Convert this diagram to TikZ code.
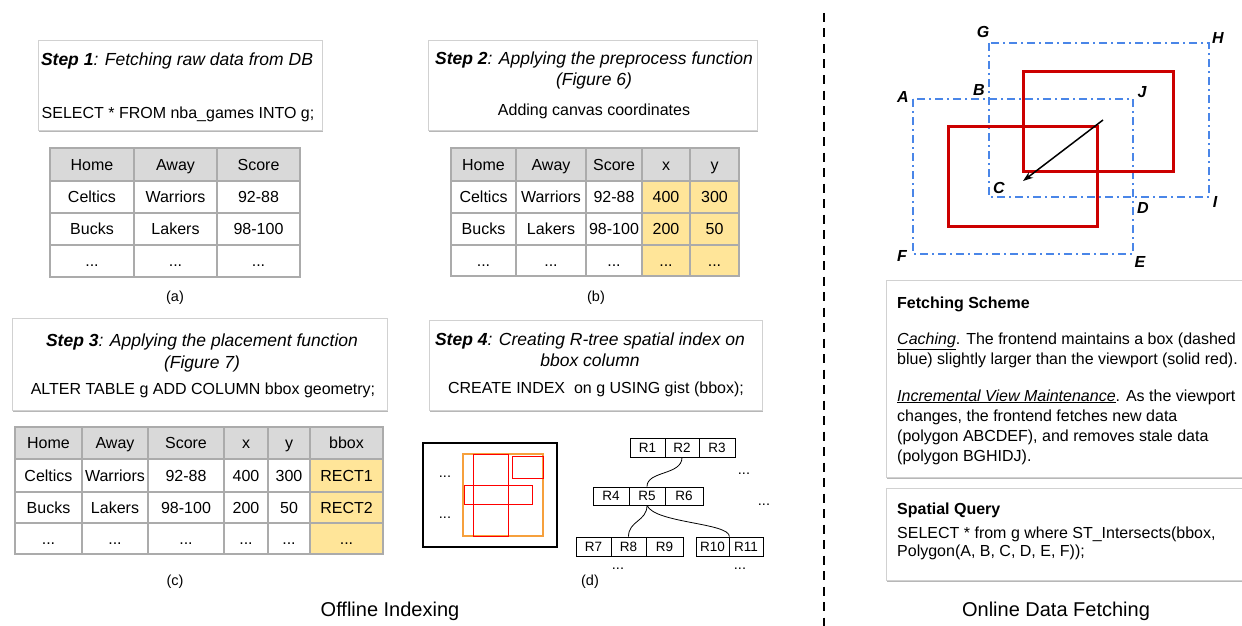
\documentclass[tikz,border=0pt]{standalone}
\usepackage{fontspec}
\setmainfont{Liberation Sans}
\usetikzlibrary{shadows,arrows.meta}
\definecolor{tblgray}{HTML}{ABABAB}
\definecolor{hdrgray}{HTML}{D9D9D9}
\definecolor{ylwfill}{HTML}{FFE599}
\definecolor{cblue}{HTML}{4A86E8}
\definecolor{cred}{HTML}{CC0000}
\definecolor{corange}{HTML}{F6A03C}
\newcommand\tcellx[7]{\node[#6, minimum width={(#4-#2)*1pt}, minimum height={(#5-#3)*1pt}] (#1) at ({(#2+#4)/2},{(#3+#5)/2}) {#7};}
\tikzset{
  txt/.style={inner sep=0pt, font=\fontsize{16}{19}\selectfont},
  steptxt/.style={inner sep=0pt, font=\fontsize{17.5}{21}\selectfont\itshape},
  stepbox/.style={draw=black!18, fill=white, line width=0.8pt, inner sep=0pt,
    drop shadow={shadow xshift=1pt, shadow yshift=-2pt, opacity=0.4, fill=black!70}},
  cell/.style={draw=tblgray, fill=white, line width=1.5pt, inner sep=0pt, text height=11.5pt, text depth=0.5pt, font=\fontsize{16}{19}\selectfont},
  hdr/.style={cell, fill=hdrgray},
  ycell/.style={cell, fill=ylwfill},
  rcell/.style={draw=black, line width=0.8pt, inner sep=0pt, text height=9.5pt, text depth=0.5pt, font=\fontsize{13.5}{16}\selectfont},
  sublabel/.style={inner sep=0pt, font=\fontsize{14.5}{17}\selectfont},
  ptlabel/.style={inner sep=0pt, font=\fontsize{16}{19}\selectfont\bfseries\itshape},
  cache/.style={draw=cblue, line width=2pt, dash pattern=on 8pt off 4pt on 2pt off 4pt},
  viewport/.style={draw=cred, line width=3pt},
  rect/.style={draw=red, line width=1pt},
  curve/.style={draw=black, line width=0.8pt},
}
\begin{document}
\begin{tikzpicture}[x=1pt,y=-1pt]
\useasboundingbox (0,0) rectangle (1242,626);

% ---------- Step 1 ----------
\node[stepbox, minimum width=284pt, minimum height=90pt] (s1) at (180,85) {};
\node[steptxt, anchor=base] (s1a) at (177,66) {\textbf{Step 1}: Fetching raw data from DB};
\node[txt, anchor=base] (s1b) at (178,118) {SELECT * FROM nba\_games INTO g;};

% table (a)
\tcellx{a11}{50}{148}{134}{181}{hdr}{Home}
\tcellx{a12}{134}{148}{217}{181}{hdr}{Away}
\tcellx{a13}{217}{148}{300}{181}{hdr}{Score}
\tcellx{a21}{50}{181}{134}{213}{cell}{Celtics}
\tcellx{a22}{134}{181}{217}{213}{cell}{Warriors}
\tcellx{a23}{217}{181}{300}{213}{cell}{92-88}
\tcellx{a31}{50}{213}{134}{245}{cell}{Bucks}
\tcellx{a32}{134}{213}{217}{245}{cell}{Lakers}
\tcellx{a33}{217}{213}{300}{245}{cell}{98-100}
\tcellx{a41}{50}{245}{134}{277}{cell}{...}
\tcellx{a42}{134}{245}{217}{277}{cell}{...}
\tcellx{a43}{217}{245}{300}{277}{cell}{...}
\node[sublabel] (la) at (175,298) {(a)};

% ---------- Step 2 ----------
\node[stepbox, minimum width=329pt, minimum height=90pt] (s2) at (592.5,85) {};
\node[steptxt, anchor=base] (s2a) at (594,64) {\textbf{Step 2}: Applying the preprocess function};
\node[steptxt, anchor=base] (s2b) at (594,85) {(Figure 6)};
\node[txt, anchor=base] (s2c) at (594,115) {Adding canvas coordinates};

% table (b)
\tcellx{b11}{451}{148}{516}{181}{hdr}{Home}
\tcellx{b12}{516}{148}{586}{181}{hdr}{Away}
\tcellx{b13}{586}{148}{642}{181}{hdr}{Score}
\tcellx{b14}{642}{148}{690}{181}{hdr}{x}
\tcellx{b15}{690}{148}{739}{181}{hdr}{y}
\tcellx{b21}{451}{181}{516}{213}{cell}{Celtics}
\tcellx{b22}{516}{181}{586}{213}{cell}{Warriors}
\tcellx{b23}{586}{181}{642}{213}{cell}{92-88}
\tcellx{b24}{642}{181}{690}{213}{ycell}{400}
\tcellx{b25}{690}{181}{739}{213}{ycell}{300}
\tcellx{b31}{451}{213}{516}{245}{cell}{Bucks}
\tcellx{b32}{516}{213}{586}{245}{cell}{Lakers}
\tcellx{b33}{586}{213}{642}{245}{cell}{98-100}
\tcellx{b34}{642}{213}{690}{245}{ycell}{200}
\tcellx{b35}{690}{213}{739}{245}{ycell}{50}
\tcellx{b41}{451}{245}{516}{276}{cell}{...}
\tcellx{b42}{516}{245}{586}{276}{cell}{...}
\tcellx{b43}{586}{245}{642}{276}{cell}{...}
\tcellx{b44}{642}{245}{690}{276}{ycell}{...}
\tcellx{b45}{690}{245}{739}{276}{ycell}{...}
\node[sublabel] (lb) at (596,298) {(b)};

% ---------- Step 3 ----------
\node[stepbox, minimum width=375pt, minimum height=92pt] (s3) at (199.5,364) {};
\node[steptxt, anchor=base] (s3a) at (202,346) {\textbf{Step 3}: Applying the placement function};
\node[steptxt, anchor=base] (s3b) at (202,368) {(Figure 7)};
\node[txt, anchor=base] (s3c) at (203,394) {ALTER TABLE g ADD COLUMN bbox geometry;};

% table (c)
\tcellx{c11}{15}{427}{82}{459}{hdr}{Home}
\tcellx{c12}{82}{427}{148}{459}{hdr}{Away}
\tcellx{c13}{148}{427}{224}{459}{hdr}{Score}
\tcellx{c14}{224}{427}{268}{459}{hdr}{x}
\tcellx{c15}{268}{427}{310}{459}{hdr}{y}
\tcellx{c16}{310}{427}{383}{459}{hdr}{bbox}
\tcellx{c21}{15}{459}{82}{492}{cell}{Celtics}
\tcellx{c22}{82}{459}{148}{492}{cell}{Warriors}
\tcellx{c23}{148}{459}{224}{492}{cell}{92-88}
\tcellx{c24}{224}{459}{268}{492}{cell}{400}
\tcellx{c25}{268}{459}{310}{492}{cell}{300}
\tcellx{c26}{310}{459}{383}{492}{ycell}{RECT1}
\tcellx{c31}{15}{492}{82}{523}{cell}{Bucks}
\tcellx{c32}{82}{492}{148}{523}{cell}{Lakers}
\tcellx{c33}{148}{492}{224}{523}{cell}{98-100}
\tcellx{c34}{224}{492}{268}{523}{cell}{200}
\tcellx{c35}{268}{492}{310}{523}{cell}{50}
\tcellx{c36}{310}{492}{383}{523}{ycell}{RECT2}
\tcellx{c41}{15}{523}{82}{554}{cell}{...}
\tcellx{c42}{82}{523}{148}{554}{cell}{...}
\tcellx{c43}{148}{523}{224}{554}{cell}{...}
\tcellx{c44}{224}{523}{268}{554}{cell}{...}
\tcellx{c45}{268}{523}{310}{554}{cell}{...}
\tcellx{c46}{310}{523}{383}{554}{ycell}{...}
\node[sublabel] (lc) at (175,582) {(c)};

% ---------- Step 4 ----------
\node[stepbox, minimum width=333pt, minimum height=90pt] (s4) at (595.5,365) {};
\node[steptxt, anchor=base] (s4a) at (590,345) {\textbf{Step 4}: Creating R-tree spatial index on};
\node[steptxt, anchor=base] (s4b) at (590,366) {bbox column};
\node[txt, anchor=base] (s4c) at (596,393) {CREATE INDEX\ \ on g USING gist (bbox);};

% canvas with rectangles
\draw[black, line width=1.2pt] (423,443) rectangle (557,547);
\node[sublabel, anchor=base] (dots1) at (445,477) {...};
\node[sublabel, anchor=base] (dots2) at (445,518) {...};
\draw[corange, line width=1.2pt] (463,454) rectangle (543,536);
\draw[rect] (473,454) rectangle (508,536);
\draw[rect] (512,456) rectangle (543,478);
\draw[rect] (464,485) rectangle (532,504);

% R-tree
\tcellx{r1}{630}{438}{665}{457}{rcell}{R1}
\tcellx{r2}{665}{438}{699}{457}{rcell}{R2}
\tcellx{r3}{699}{438}{735}{457}{rcell}{R3}
\tcellx{r4}{593}{487}{629}{505}{rcell}{R4}
\tcellx{r5}{629}{487}{665}{505}{rcell}{R5}
\tcellx{r6}{665}{487}{703}{505}{rcell}{R6}
\tcellx{r7}{576}{537}{611}{556}{rcell}{R7}
\tcellx{r8}{611}{537}{646}{556}{rcell}{R8}
\tcellx{r9}{646}{537}{683}{556}{rcell}{R9}
\tcellx{r10}{696}{537}{729}{556}{rcell}{R10}
\tcellx{r11}{729}{537}{763}{556}{rcell}{R11}
\draw[curve] (r2.south) .. controls ++(0,18) and ++(0,-16) .. (r5.north);
\draw[curve] (r5.south) .. controls ++(0,16) and ++(0,-16) .. (r8.north);
\draw[curve] (r5.south) .. controls ++(8,18) and ++(0,-14) .. (r10.north east);
\node[sublabel, anchor=base] (rd1) at (744,474) {...};
\node[sublabel, anchor=base] (rd2) at (764,505) {...};
\node[sublabel, anchor=base] (rd3) at (618,569) {...};
\node[sublabel, anchor=base] (rd4) at (740,569) {...};
\node[sublabel] (ld) at (590,582) {(d)};

% divider
\coordinate (divtop) at (824,13);
\coordinate (divbot) at (824,626);
\draw[black, line width=2pt, dash pattern=on 9pt off 6.5pt] (divtop) -- (divbot);

% ---------- right diagram ----------
\draw[cache] (913,99) rectangle (1133,254);
\draw[cache] (989,43) rectangle (1209,197);
\draw[viewport] (948,126) rectangle (1097,226);
\draw[viewport] (1023,72) rectangle (1173,171);
\coordinate (arrS) at (1103,120);
\coordinate (arrE) at (1023,181);
\draw[black, line width=1.5pt, -{Stealth[length=10pt,width=7pt]}] (arrS) -- (arrE);
\node[ptlabel] (pA) at (903,97) {A};
\node[ptlabel] (pB) at (979,90) {B};
\node[ptlabel] (pG) at (983,32) {G};
\node[ptlabel] (pH) at (1218,38) {H};
\node[ptlabel] (pJ) at (1142,92) {J};
\node[ptlabel] (pC) at (999,188) {C};
\node[ptlabel] (pI) at (1215,202) {I};
\node[ptlabel] (pD) at (1143,208) {D};
\node[ptlabel] (pF) at (902,256) {F};
\node[ptlabel] (pE) at (1140,262) {E};

% Fetching scheme box
\node[stepbox, minimum width=370pt, minimum height=197pt, anchor=north west] (fs) at (886,280) {};
\node[txt, anchor=base west] (fs1) at (897,308) {\textbf{Fetching Scheme}};
\node[txt, anchor=base west] (fs2) at (897,344) {\underline{\textit{Caching}}. The frontend maintains a box (dashed};
\node[txt, anchor=base west] (fs3) at (897,364) {blue) slightly larger than the viewport (solid red).};
\node[txt, anchor=base west] (fs4) at (897,401) {\underline{\textit{Incremental View Maintenance}}. As the viewport};
\node[txt, anchor=base west] (fs5) at (897,421) {changes, the frontend fetches new data};
\node[txt, anchor=base west] (fs6) at (897,441) {(polygon ABCDEF), and removes stale data};
\node[txt, anchor=base west] (fs7) at (897,461) {(polygon BGHIDJ).};

% Spatial query box
\node[stepbox, minimum width=370pt, minimum height=92pt, anchor=north west] (sq) at (886,488) {};
\node[txt, anchor=base west] (sq1) at (897,514) {\textbf{Spatial Query}};
\node[txt, anchor=base west] (sq2) at (897,538) {SELECT * from g where ST\_Intersects(bbox,};
\node[txt, anchor=base west] (sq3) at (897,556) {Polygon(A, B, C, D, E, F));};

% section titles
\node[inner sep=0pt, font=\fontsize{20}{24}\selectfont] (off) at (390,611) {Offline Indexing};
\node[inner sep=0pt, font=\fontsize{20}{24}\selectfont] (on) at (1056,611) {Online Data Fetching};
\end{tikzpicture}
\end{document}
